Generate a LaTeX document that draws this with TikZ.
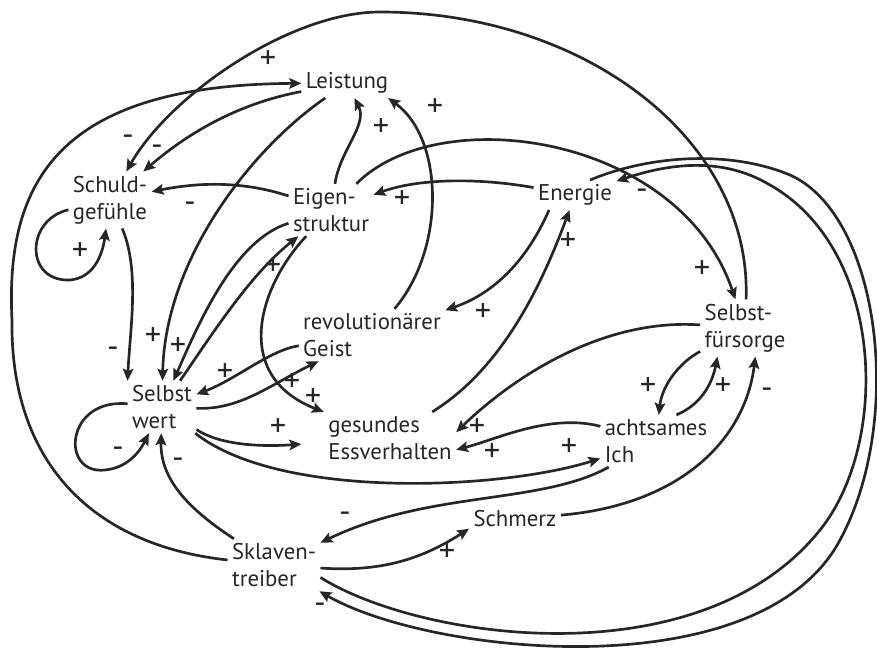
\documentclass[tikz,border=0pt]{standalone}
\usepackage{fontspec}
\setmainfont{PT Sans}
\usetikzlibrary{arrows.meta}
\definecolor{ink}{RGB}{38,38,38}

\begin{document}
\begin{tikzpicture}[x=0.25mm, y=-0.25mm,
  >={Stealth[length=8.5pt, width=7.5pt, inset=1.5pt]},
  every node/.style={font=\fontsize{16.2}{19.2}\selectfont, text=ink},
  box/.style={align=left, inner sep=3pt},
  sign/.style={inner sep=0pt, font=\fontsize{23}{23}\selectfont},
  link/.style={->, draw=ink, line width=1.9pt}]
  \useasboundingbox (0,0) rectangle (877,648);

  % Main nodes
  \node[box] (lei) at (347,83) {Leistung};
  \node[box] (sch) at (110,200) {Schuld-\\gefühle};
  \node[box] (eig) at (331,210) {Eigen-\\struktur};
  \node[box] (ene) at (575,195) {Energie};
  \node[box] (rev) at (372,335) {revolutionärer\\Geist};
  \node[box] (sfs) at (745,328) {Selbst-\\fürsorge};
  \node[box] (swt) at (162,407) {Selbst\\wert};
  \node[box] (ges) at (390,438) {gesundes\\Essverhalten};
  \node[box] (ach) at (656,441) {achtsames\\Ich};
  \node[box] (smz) at (515,519) {Schmerz};
  \node[box] (skl) at (274,565) {Sklaven-\\treiber};

  % Outer arcs
  \draw[link] (skl) .. controls (90,545) and (10,460) .. (12,320)
    .. controls (5,180) and (60,85) .. (lei) node[sign] at (268,60) {+};
  \draw[link] (sfs) .. controls (752,140) and (585,12) .. (380,12)
    .. controls (290,12) and (170,95) .. (sch) node[sign] at (128,140) {-};

  % Edges - Leistung and Schuldgefühle
  \draw[link] (lei) .. controls (230,105) and (180,140) .. (sch) node[sign] at (157,150) {-};
  \draw[link] (lei) .. controls (250,150) and (165,260) .. (swt) node[sign] at (153,337) {+};
  \draw[link] (eig) .. controls (340,150) and (368,125) .. (lei) node[sign] at (381,128) {+};
  \draw[link] (rev) .. controls (445,250) and (445,140) .. (lei.-20) node[sign] at (435,108) {+};
  \draw[link] (eig) .. controls (240,180) and (195,183) .. (sch) node[sign] at (190,207) {-};
  \draw[link] (sch) .. controls (25,220) and (25,282) .. (70,280)
    .. controls (92,278) and (102,258) .. (sch) node[sign] at (80,252) {+};
  \draw[link] (sch) .. controls (140,270) and (130,330) .. (swt.north west) node[sign] at (113,352) {-};

  % Edges - Selbstwert
  \draw[link] (swt) .. controls (65,398) and (60,475) .. (105,470)
    .. controls (125,468) and (138,455) .. (swt) node[sign] at (118,452) {-};
  \draw[link] (eig) .. controls (235,240) and (200,320) .. (swt) node[sign] at (178,347) {+};
  \draw[link] (swt) .. controls (215,330) and (250,275) .. (eig) node[sign] at (273,267) {+};
  \draw[link] (eig) .. controls (260,285) and (230,375) .. (ges) node[sign] at (313,398) {+};
  \draw[link] (rev) .. controls (270,350) and (235,380) .. (swt) node[sign] at (225,373) {+};
  \draw[link] (swt) .. controls (240,410) and (270,385) .. (rev) node[sign] at (292,383) {+};
  \draw[link, shorten >=16pt] (swt) .. controls (220,445) and (260,447) .. (ges) node[sign] at (278,428) {+};
  \draw[link] (swt) .. controls (280,500) and (500,490) .. (ach) node[sign] at (569,448) {+};

  % Edges - Energie
  \draw[link] (ene) .. controls (480,178) and (420,178) .. (eig) node[sign] at (402,200) {+};
  \draw[link] (eig.46) .. controls (440,100) and (680,135) .. (sfs) node[sign] at (702,270) {+};
  \draw[link] (ene.210) .. controls (525,265) and (490,295) .. (rev) node[sign] at (483,313) {+};
  \draw[link] (ges) .. controls (500,370) and (540,290) .. (ene) node[sign] at (568,242) {+};

  % Edges - Selbstfürsorge and achtsames Ich
  \draw[link] (sfs) .. controls (600,318) and (510,380) .. (ges.5) node[sign] at (477,428) {+};
  \draw[link] (ach) .. controls (550,413) and (495,440) .. (ges.-10) node[sign] at (492,453) {+};
  \draw[link] (sfs) .. controls (680,362) and (662,385) .. (ach) node[sign] at (648,387) {+};
  \draw[link] (ach.52) .. controls (700,405) and (712,385) .. (sfs.226) node[sign] at (723,387) {+};
  \draw[link] (smz) .. controls (680,505) and (745,440) .. (sfs.-70) node[sign] at (767,393) {-};

  % Edges - Sklaventreiber
  \draw[link] (ach) .. controls (540,505) and (430,490) .. (skl) node[sign] at (345,517) {-};
  \draw[link] (skl) .. controls (380,572) and (420,560) .. (smz.192) node[sign] at (447,553) {+};
  \draw[link] (skl) .. controls (190,510) and (160,480) .. (swt) node[sign] at (178,463) {-};
  \draw[link] (skl.-15) .. controls (420,640) and (700,680) .. (820,530)
    .. controls (890,443) and (885,250) .. (770,185)
    .. controls (720,155) and (665,165) .. (ene) node[sign] at (642,194) {-};
  \draw[link] (ene.45) .. controls (650,155) and (730,150) .. (790,175)
    .. controls (880,215) and (905,420) .. (840,540)
    .. controls (760,690) and (430,655) .. (skl) node[sign] at (320,608) {-};
\end{tikzpicture}
\end{document}
